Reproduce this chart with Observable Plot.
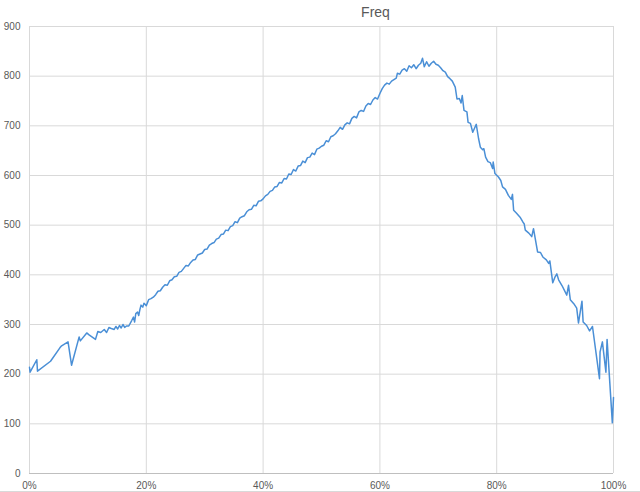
<!DOCTYPE html>
<html>
<head>
<meta charset="utf-8">
<script src="https://cdn.jsdelivr.net/npm/d3@7"></script>
<script src="https://cdn.jsdelivr.net/npm/@observablehq/plot@0.6"></script>
<style>
  body { margin: 0; background: #fff; }
  #chart-container { width: 640px; height: 491px; border-bottom: 1px solid #d9d9d9; }
</style>
</head>
<body>
<div id="chart-container"></div>
<script>
// share of the range (0..1) and the frequency read at that point
const share = [
  0.000, 0.001, 0.0125, 0.0137, 0.036, 0.052, 0.055, 0.066, 0.072, 0.085,
  0.087, 0.098, 0.102, 0.113, 0.117, 0.122, 0.128, 0.132, 0.136, 0.140,
  0.145, 0.148, 0.151, 0.154, 0.157, 0.160, 0.163, 0.166, 0.170, 0.175,
  0.178, 0.180, 0.182, 0.185, 0.187, 0.189, 0.191, 0.194, 0.196,
  0.200, 0.204, 0.208, 0.212, 0.216, 0.220, 0.224, 0.228, 0.232, 0.236,
  0.240, 0.244, 0.248, 0.252, 0.256, 0.260, 0.264, 0.268, 0.272, 0.276,
  0.280, 0.284, 0.288, 0.292, 0.296, 0.300, 0.304, 0.308, 0.312, 0.316,
  0.320, 0.324, 0.328, 0.332, 0.336, 0.340, 0.344, 0.348, 0.352, 0.356,
  0.360, 0.364, 0.368, 0.372, 0.376, 0.380, 0.384, 0.388, 0.392, 0.396,
  0.400, 0.404, 0.408, 0.412, 0.416, 0.420, 0.424, 0.428, 0.432, 0.436,
  0.440, 0.444, 0.448, 0.452, 0.456, 0.460, 0.464, 0.468, 0.472, 0.476,
  0.480, 0.484, 0.488, 0.492, 0.496, 0.500, 0.504, 0.508, 0.512, 0.516,
  0.520, 0.524, 0.528, 0.532, 0.536, 0.540, 0.544, 0.548, 0.552, 0.556,
  0.560, 0.564, 0.568, 0.572, 0.576, 0.580, 0.584, 0.588, 0.592, 0.596,
  0.600, 0.604, 0.608, 0.612, 0.616, 0.620, 0.624, 0.628, 0.630, 0.634,
  0.638, 0.642, 0.646, 0.650, 0.654, 0.658, 0.662, 0.666, 0.670, 0.673,
  0.676, 0.680, 0.684, 0.688, 0.692, 0.696, 0.700, 0.704, 0.708, 0.712,
  0.716, 0.720, 0.724, 0.729, 0.732, 0.736, 0.739, 0.741, 0.744, 0.749,
  0.751, 0.755, 0.759, 0.762, 0.765, 0.769, 0.772, 0.776, 0.778, 0.781,
  0.785, 0.789, 0.793, 0.794, 0.797, 0.803, 0.807, 0.810, 0.815, 0.820,
  0.825, 0.827, 0.829, 0.834, 0.840, 0.845, 0.847, 0.849, 0.855, 0.860,
  0.863, 0.870, 0.875, 0.879, 0.885, 0.889, 0.891, 0.896, 0.900, 0.903,
  0.906, 0.912, 0.920, 0.923, 0.926, 0.932, 0.937, 0.940, 0.946, 0.948,
  0.954, 0.959, 0.964, 0.976, 0.977, 0.981, 0.987, 0.989, 0.998, 1.000
];

const freq = [
  214, 204, 229, 206, 226, 253, 257, 265, 218, 275,
  267, 283, 279, 270, 286, 284, 290, 284, 294, 292,
  290, 296, 291, 298, 293, 300, 294, 297, 297, 308,
  315, 305, 322, 325, 318, 330, 339, 335, 343,
  338, 350, 352, 355, 360, 367, 368, 375, 380, 379,
  388, 390, 396, 397, 405, 407, 413, 419, 418, 425,
  430, 431, 440, 442, 444, 451, 452, 460, 463, 465,
  472, 474, 481, 482, 490, 489, 497, 499, 507, 505,
  514, 517, 519, 527, 531, 532, 540, 539, 548, 549,
  553, 559, 562, 568, 570, 577, 578, 586, 585, 594,
  593, 603, 602, 612, 609, 619, 620, 629, 626, 636,
  637, 645, 642, 653, 655, 659, 661, 670, 668, 678,
  680, 684, 690, 697, 693, 702, 706, 704, 715, 719,
  716, 728, 731, 729, 740, 745, 743, 752, 757, 754,
  765, 775, 782, 786, 784, 790, 793, 796, 806, 804,
  812, 815, 810, 821, 817, 823, 815, 822, 826, 836,
  819, 829, 820, 826, 830, 824, 822, 817, 811, 808,
  799, 795, 790, 778, 754, 755, 746, 761, 731, 728,
  707, 705, 687, 695, 703, 674, 657, 652, 654, 637,
  628, 626, 614, 627, 604, 597, 590, 577, 572, 560,
  552, 562, 530, 524, 516, 506, 503, 490, 484, 477,
  493, 446, 445, 436, 430, 423, 428, 384, 396, 402,
  390, 378, 359, 379, 350, 342, 333, 303, 347, 305,
  298, 287, 296, 191, 245, 265, 204, 270, 102, 153
];

const yTicks = [0, 100, 200, 300, 400, 500, 600, 700, 800, 900];
const xTicks = [0, 0.2, 0.4, 0.6, 0.8, 1.0];
const chartTitle = "Freq";

const points = share.map((s, i) => ({share: s, freq: freq[i]}));

const plot = Plot.plot({
  width: 640,
  height: 490,
  marginTop: 26,
  marginBottom: 17,
  marginLeft: 29,
  marginRight: 27,
  style: {fontFamily: "Liberation Sans, Arial, sans-serif", fontSize: "10px", color: "#595959", background: "#fff"},
  x: {domain: [0, 1], ticks: xTicks, tickFormat: d => Math.round(d * 100) + "%", label: null},
  y: {domain: [0, 900], ticks: yTicks, label: null},
  marks: [
    Plot.gridX(xTicks, {stroke: "#d9d9d9", strokeOpacity: 1}),
    Plot.gridY(yTicks, {stroke: "#d9d9d9", strokeOpacity: 1}),
    Plot.ruleY([0], {stroke: "#bfbfbf"}),
    Plot.axisX({ticks: xTicks, tickSize: 0, tickPadding: 8, tickFormat: d => Math.round(d * 100) + "%", fill: "#595959"}),
    Plot.axisY({ticks: yTicks, tickSize: 0, tickPadding: 9, fill: "#595959"}),
    Plot.line(points, {x: "share", y: "freq", stroke: "#4a8fd6", strokeWidth: 1.5}),
    Plot.text([chartTitle], {frameAnchor: "top", dx: 54, dy: -19, fontSize: 14, fill: "#595959"})
  ]
});

document.getElementById("chart-container").appendChild(plot);
</script>
</body>
</html>
